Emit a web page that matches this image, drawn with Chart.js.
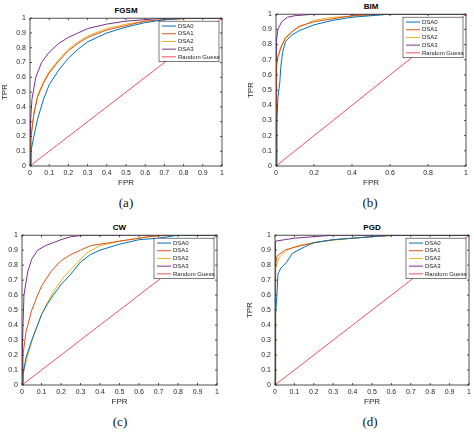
<!DOCTYPE html>
<html>
<head>
<meta charset="utf-8">
<script src="https://cdn.jsdelivr.net/npm/chart.js@4.4.0/dist/chart.umd.min.js"></script>
<style>
  body{margin:0;background:#fff;width:474px;height:434px;position:relative;overflow:hidden;font-family:"Liberation Sans",Arial,sans-serif}
  canvas{position:absolute}
  .ttl{position:absolute;font-weight:bold;font-size:8px;color:#000;text-align:center}
  .cap{position:absolute;font-family:"Liberation Serif","Times New Roman",serif;font-size:13px;color:#111;text-align:center;width:40px}
</style>
</head>
<body>
<div class="ttl" style="left:30px;width:192px;top:6px">FGSM</div>
<div class="ttl" style="left:276px;width:190px;top:2px">BIM</div>
<div class="ttl" style="left:22px;width:195px;top:223px">CW</div>
<div class="ttl" style="left:275px;width:194px;top:223px">PGD</div>
<div class="cap" style="left:106px;top:195px">(a)</div>
<div class="cap" style="left:350px;top:195px">(b)</div>
<div class="cap" style="left:100px;top:414px">(c)</div>
<div class="cap" style="left:350px;top:414px">(d)</div>

<canvas id="cA" width="228" height="178" style="left:0px;top:10px"></canvas>
<canvas id="cB" width="226" height="182" style="left:246px;top:6px"></canvas>
<canvas id="cC" width="231" height="180" style="left:-8px;top:227px"></canvas>
<canvas id="cD" width="230" height="180" style="left:245px;top:227px"></canvas>

<script>
/* DATA */
const seriesNames = ["DSA0","DSA1","DSA2","DSA3","Random Guess"];
const seriesColors = ["#0072BD","#D95319","#EDB120","#7E2F8E","#F0505A"];
const ticksFine = [0,0.1,0.2,0.3,0.4,0.5,0.6,0.7,0.8,0.9,1];
const ticksCoarse = [0,0.2,0.4,0.6,0.8,1];
const guessFpr = [0,1];
const guessTpr = [0,1];

// FGSM
const fgsm0Fpr = [0,0.005,0.02,0.04,0.07,0.1,0.15,0.2,0.25,0.3,0.35,0.4,0.5,0.6,0.7,0.8,1];
const fgsm0Tpr = [0,0.1,0.2,0.32,0.45,0.55,0.65,0.73,0.79,0.84,0.87,0.9,0.94,0.97,0.99,1,1];
const fgsm1Fpr = [0,0.005,0.02,0.04,0.07,0.1,0.15,0.2,0.25,0.3,0.4,0.5,0.6,0.7,0.85,1];
const fgsm1Tpr = [0,0.2,0.35,0.47,0.56,0.63,0.71,0.78,0.83,0.87,0.92,0.95,0.98,0.99,1,1];
const fgsm2Fpr = [0,0.005,0.02,0.04,0.07,0.1,0.15,0.2,0.25,0.3,0.4,0.5,0.6,0.7,0.85,1];
const fgsm2Tpr = [0,0.18,0.36,0.48,0.57,0.64,0.72,0.79,0.84,0.88,0.93,0.96,0.98,0.99,1,1];
const fgsm3Fpr = [0,0.003,0.01,0.03,0.06,0.1,0.15,0.2,0.3,0.4,0.5,0.6,0.7,1];
const fgsm3Tpr = [0,0.3,0.45,0.6,0.7,0.77,0.83,0.87,0.93,0.96,0.98,0.99,1,1];

// BIM
const bim0Fpr = [0,0.005,0.01,0.02,0.025,0.035,0.05,0.08,0.12,0.2,0.3,0.4,0.5,0.6,1];
const bim0Tpr = [0,0.3,0.45,0.55,0.65,0.75,0.82,0.86,0.89,0.93,0.96,0.98,0.99,1,1];
const bim1Fpr = [0,0.003,0.01,0.03,0.05,0.08,0.12,0.2,0.3,0.4,0.55,1];
const bim1Tpr = [0,0.65,0.72,0.79,0.84,0.88,0.92,0.95,0.97,0.99,1,1];
const bim2Fpr = [0,0.003,0.02,0.05,0.1,0.2,0.3,0.45,0.6,1];
const bim2Tpr = [0,0.68,0.77,0.85,0.9,0.96,0.98,0.99,1,1];
const bim3Fpr = [0,0.002,0.01,0.03,0.06,0.1,0.2,1];
const bim3Tpr = [0,0.82,0.9,0.95,0.98,0.99,1,1];

// CW
const cw0Fpr = [0,0.005,0.02,0.05,0.08,0.1,0.13,0.16,0.2,0.25,0.3,0.35,0.4,0.5,0.6,0.7,0.8,1];
const cw0Tpr = [0,0.07,0.18,0.3,0.4,0.47,0.54,0.6,0.67,0.74,0.82,0.87,0.9,0.94,0.97,0.98,1,1];
const cw1Fpr = [0,0.005,0.02,0.05,0.08,0.1,0.15,0.2,0.25,0.3,0.35,0.45,0.55,0.65,0.75,1];
const cw1Tpr = [0,0.2,0.35,0.5,0.6,0.66,0.76,0.83,0.87,0.9,0.93,0.95,0.97,0.99,1,1];
const cw2Fpr = [0,0.01,0.03,0.06,0.1,0.13,0.17,0.22,0.28,0.33,0.4,0.5,0.6,0.7,1];
const cw2Tpr = [0,0.1,0.2,0.33,0.47,0.55,0.64,0.73,0.81,0.88,0.93,0.96,0.98,1,1];
const cw3Fpr = [0,0.003,0.01,0.03,0.05,0.08,0.12,0.2,0.25,0.32,1];
const cw3Tpr = [0,0.3,0.6,0.76,0.84,0.9,0.93,0.97,0.99,1,1];

// PGD
const pgd0Fpr = [0,0.003,0.01,0.015,0.03,0.06,0.09,0.15,0.2,0.3,0.4,0.5,0.6,1];
const pgd0Tpr = [0,0.48,0.6,0.74,0.78,0.82,0.88,0.92,0.95,0.97,0.98,0.99,1,1];
const pgd1Fpr = [0,0.003,0.01,0.05,0.1,0.2,0.3,0.5,0.65,1];
const pgd1Tpr = [0,0.8,0.86,0.9,0.92,0.95,0.97,0.99,1,1];
const pgd2Fpr = [0,0.003,0.02,0.06,0.12,0.25,0.4,0.6,1];
const pgd2Tpr = [0,0.78,0.85,0.9,0.93,0.96,0.98,1,1];
const pgd3Fpr = [0,0.002,0.05,0.1,0.2,0.3,1];
const pgd3Tpr = [0,0.96,0.97,0.98,0.99,1,1];

/* HELPERS */
function pts(xs, ys){ return xs.map((x,i)=>({x:x, y:ys[i]})); }

// box border, inward ticks on all sides, legend inside top-right
const matlabBox = {
  id:"matlabBox",
  afterDraw(chart){
    const c = chart.ctx, a = chart.chartArea;
    const xs = chart.scales.x, ys = chart.scales.y;
    c.save();
    c.strokeStyle = "#262626"; c.lineWidth = 0.8;
    c.strokeRect(a.left, a.top, a.right-a.left, a.bottom-a.top);
    c.beginPath();
    xs.ticks.forEach(t=>{
      const p = xs.getPixelForValue(t.value);
      c.moveTo(p,a.bottom); c.lineTo(p,a.bottom-2);
      c.moveTo(p,a.top); c.lineTo(p,a.top+2);
    });
    ys.ticks.forEach(t=>{
      const p = ys.getPixelForValue(t.value);
      c.moveTo(a.left,p); c.lineTo(a.left+2,p);
      c.moveTo(a.right,p); c.lineTo(a.right-2,p);
    });
    c.stroke();

    // legend
    const w = 60, rh = 7.7, h = rh*5+2;
    const lx = a.right-3-w, ly = a.top+3;
    c.fillStyle = "#fff"; c.fillRect(lx,ly,w,h);
    c.strokeStyle = "#262626"; c.lineWidth = 0.6; c.strokeRect(lx,ly,w,h);
    c.font = "6px 'Liberation Sans', Arial, sans-serif";
    c.textBaseline = "middle";
    chart.data.datasets.forEach((d,i)=>{
      const yy = ly+1+rh*(i+0.5);
      c.strokeStyle = d.borderColor; c.lineWidth = 1;
      c.beginPath(); c.moveTo(lx+3,yy); c.lineTo(lx+17,yy); c.stroke();
      c.fillStyle = "#222"; c.fillText(d.label, lx+19, yy);
    });
    c.restore();
  }
};

function makeChart(id, curves, tickList){
  const datasets = curves.map((cv,i)=>({
    label: seriesNames[i],
    data: pts(cv[0], cv[1]),
    borderColor: seriesColors[i],
    borderWidth: 1,
    pointRadius: 0,
    tension: 0,
    fill: false
  }));
  const tickFont = {family:"'Liberation Sans', Arial, sans-serif", size:7};
  new Chart(document.getElementById(id), {
    type:"line",
    data:{datasets},
    plugins:[matlabBox],
    options:{
      responsive:false,
      animation:false,
      layout:{padding:{top:6,right:6,left:0,bottom:0}},
      plugins:{legend:{display:false}, tooltip:{enabled:false}},
      scales:{
        x:{
          type:"linear", min:0, max:1,
          afterBuildTicks(s){ s.ticks = tickList.map(v=>({value:v})); },
          afterFit(s){ s.height = 22; },
          grid:{display:false, drawTicks:false}, border:{display:false},
          ticks:{font:tickFont, color:"#262626", padding:3, maxRotation:0, autoSkip:false,
                 callback:v=>String(Math.round(v*10)/10)},
          title:{display:true, text:"FPR", font:{family:"'Liberation Sans', Arial, sans-serif", size:8}, color:"#262626", padding:0}
        },
        y:{
          min:0, max:1,
          afterBuildTicks(s){ s.ticks = ticksFine.map(v=>({value:v})); },
          afterFit(s){ s.width = 30; },
          grid:{display:false, drawTicks:false}, border:{display:false},
          ticks:{font:tickFont, color:"#262626", padding:4, autoSkip:false,
                 callback:v=>String(Math.round(v*10)/10)},
          title:{display:true, text:"TPR", font:{family:"'Liberation Sans', Arial, sans-serif", size:8}, color:"#262626", padding:0}
        }
      }
    }
  });
}

makeChart("cA", [[fgsm0Fpr,fgsm0Tpr],[fgsm1Fpr,fgsm1Tpr],[fgsm2Fpr,fgsm2Tpr],[fgsm3Fpr,fgsm3Tpr],[guessFpr,guessTpr]], ticksFine);
makeChart("cB", [[bim0Fpr,bim0Tpr],[bim1Fpr,bim1Tpr],[bim2Fpr,bim2Tpr],[bim3Fpr,bim3Tpr],[guessFpr,guessTpr]], ticksCoarse);
makeChart("cC", [[cw0Fpr,cw0Tpr],[cw1Fpr,cw1Tpr],[cw2Fpr,cw2Tpr],[cw3Fpr,cw3Tpr],[guessFpr,guessTpr]], ticksFine);
makeChart("cD", [[pgd0Fpr,pgd0Tpr],[pgd1Fpr,pgd1Tpr],[pgd2Fpr,pgd2Tpr],[pgd3Fpr,pgd3Tpr],[guessFpr,guessTpr]], ticksFine);
</script>
</body>
</html>
